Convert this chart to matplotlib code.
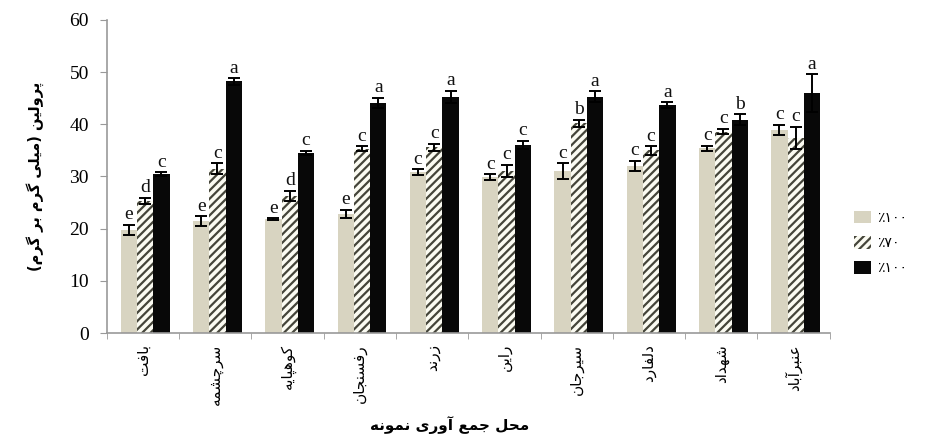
import numpy as np
import matplotlib
matplotlib.use('Agg')
import matplotlib.pyplot as plt
from matplotlib.patches import Patch

# formas de apresentacao (isolada, final, inicial, medial) das letras persas
FORMS = {
    '\u0627': ('\uFE8D', '\uFE8E'), '\u0622': ('\uFE81', '\uFE82'),
    '\u062F': ('\uFEA9', '\uFEAA'), '\u0631': ('\uFEAD', '\uFEAE'),
    '\u0632': ('\uFEAF', '\uFEB0'), '\u0648': ('\uFEED', '\uFEEE'),
    '\u0628': ('\uFE8F', '\uFE90', '\uFE91', '\uFE92'),
    '\u067E': ('\uFB56', '\uFB57', '\uFB58', '\uFB59'),
    '\u062A': ('\uFE95', '\uFE96', '\uFE97', '\uFE98'),
    '\u062C': ('\uFE9D', '\uFE9E', '\uFE9F', '\uFEA0'),
    '\u0686': ('\uFB7A', '\uFB7B', '\uFB7C', '\uFB7D'),
    '\u062D': ('\uFEA1', '\uFEA2', '\uFEA3', '\uFEA4'),
    '\u0633': ('\uFEB1', '\uFEB2', '\uFEB3', '\uFEB4'),
    '\u0634': ('\uFEB5', '\uFEB6', '\uFEB7', '\uFEB8'),
    '\u0639': ('\uFEC9', '\uFECA', '\uFECB', '\uFECC'),
    '\u0641': ('\uFED1', '\uFED2', '\uFED3', '\uFED4'),
    '\u06A9': ('\uFB8E', '\uFB8F', '\uFB90', '\uFB91'),
    '\u06AF': ('\uFB92', '\uFB93', '\uFB94', '\uFB95'),
    '\u0644': ('\uFEDD', '\uFEDE', '\uFEDF', '\uFEE0'),
    '\u0645': ('\uFEE1', '\uFEE2', '\uFEE3', '\uFEE4'),
    '\u0646': ('\uFEE5', '\uFEE6', '\uFEE7', '\uFEE8'),
    '\u0647': ('\uFEE9', '\uFEEA', '\uFEEB', '\uFEEC'),
    '\u06CC': ('\uFBFC', '\uFBFD', '\uFBFE', '\uFBFF'),
}
MIRROR = {'(': ')', ')': '('}

def fa(s):
    # liga as letras e inverte para a ordem visual (direita para esquerda)
    out = []
    for i, c in enumerate(s):
        if c not in FORMS:
            out.append(MIRROR.get(c, c))
            continue
        prev = s[i-1] if i > 0 else ''
        nxt = s[i+1] if i < len(s)-1 else ''
        j_prev = prev in FORMS and len(FORMS[prev]) == 4
        j_next = len(FORMS[c]) == 4 and nxt in FORMS
        f = FORMS[c]
        if j_prev and j_next:
            out.append(f[3])
        elif j_prev:
            out.append(f[1])
        elif j_next:
            out.append(f[2])
        else:
            out.append(f[0])
    return ''.join(out[::-1])

# dados
locais = ['بافت', 'سرچشمه', 'کوهپایه', 'رفسنجان', 'زرند', 'راین', 'سیرجان', 'دلفارد', 'شهداد', 'عنبرآباد']
series_labels = ['٪۱۰۰', '٪۷۰', '٪۱۰۰']

v1 = [19.7, 21.5, 21.8, 22.8, 30.8, 29.9, 31.0, 32.0, 35.4, 38.9]
e1 = [1.0, 0.9, 0.2, 0.8, 0.6, 0.5, 1.5, 1.0, 0.5, 1.0]
l1 = ['e', 'e', 'e', 'e', 'c', 'c', 'c', 'c', 'c', 'c']

v2 = [25.3, 31.5, 26.2, 35.3, 35.6, 31.0, 40.2, 35.0, 38.6, 37.4]
e2 = [0.6, 1.0, 1.0, 0.5, 0.7, 1.2, 0.7, 0.8, 0.5, 2.1]
l2 = ['d', 'c', 'd', 'c', 'c', 'c', 'b', 'c', 'c', 'c']

v3 = [30.4, 48.2, 34.5, 44.1, 45.2, 36.0, 45.3, 43.7, 40.9, 46.0]
e3 = [0.4, 0.6, 0.4, 1.0, 1.2, 0.8, 1.0, 0.5, 1.0, 3.6]
l3 = ['c', 'a', 'c', 'a', 'a', 'c', 'a', 'a', 'b', 'a']

plt.rcParams['hatch.linewidth'] = 1.6
serif = 'Liberation Serif'

fig = plt.figure(figsize=(9.46, 4.42), dpi=100)
ax = fig.add_axes([0.113, 0.2466, 0.764, 0.7084])

x = np.arange(len(locais))
w = 0.225
beige = '#d8d4c1'
hatch_col = '#45453a'
kw_err = dict(ecolor='black', elinewidth=1.4, capsize=4, capthick=1.4)

ax.bar(x - w + 0.03, v1, w, color=beige, linewidth=0, yerr=e1, error_kw=kw_err)
ax.bar(x + 0.03, v2, w, color='#fbfbf2', edgecolor=hatch_col, hatch='////', linewidth=0,
       yerr=e2, error_kw=kw_err)
ax.bar(x + w + 0.03, v3, w, color='#080808', linewidth=0, yerr=e3, error_kw=kw_err)

for off, vals, errs, labs in [(-w, v1, e1, l1), (0, v2, e2, l2), (w, v3, e3, l3)]:
    for xi, v, e, t in zip(x, vals, errs, labs):
        ax.text(xi + off + 0.03, v + e + 0.3, t, ha='center', va='bottom',
                fontsize=14, family=serif, color='#111111')

ax.set_xlim(-0.5, len(locais) - 0.5)
ax.set_ylim(0, 60)
ax.set_yticks(np.arange(0, 61, 10))
ax.set_yticklabels([str(v) for v in range(0, 61, 10)], family=serif, fontsize=14)
ax.tick_params(axis='y', length=5, color='#999999', pad=8)

ax.set_xticks(x)
ax.set_xticklabels([fa(s) for s in locais], rotation=90, fontsize=11,
                   family='DejaVu Sans', va='top')
ax.tick_params(axis='x', which='major', length=0, pad=8)
ax.set_xticks(np.arange(-0.5, len(locais), 1), minor=True)
ax.tick_params(axis='x', which='minor', length=4, color='#999999')

for s in ['top', 'right']:
    ax.spines[s].set_visible(False)
for s in ['left', 'bottom']:
    ax.spines[s].set_color('#999999')
    ax.spines[s].set_linewidth(1.2)

ax.set_ylabel(fa('پرولین (میلی گرم بر گرم)'), fontsize=10.5, fontweight='bold',
              family='DejaVu Sans', labelpad=18)
fig.text(0.475, 0.038, fa('محل جمع آوری نمونه'), ha='center', va='center',
         fontsize=11, fontweight='bold', family='DejaVu Sans')

handles = [Patch(facecolor=beige, linewidth=0),
           Patch(facecolor='#fbfbf2', edgecolor=hatch_col, hatch='////', linewidth=0),
           Patch(facecolor='#080808', linewidth=0)]
fig.legend(handles, series_labels, loc='center left', bbox_to_anchor=(0.89, 0.45),
           frameon=False, handlelength=1.2, handleheight=1.0,
           handletextpad=0.4, labelspacing=0.8, prop={'family': 'DejaVu Sans', 'size': 10})

fig.savefig('out.png', dpi=100)
